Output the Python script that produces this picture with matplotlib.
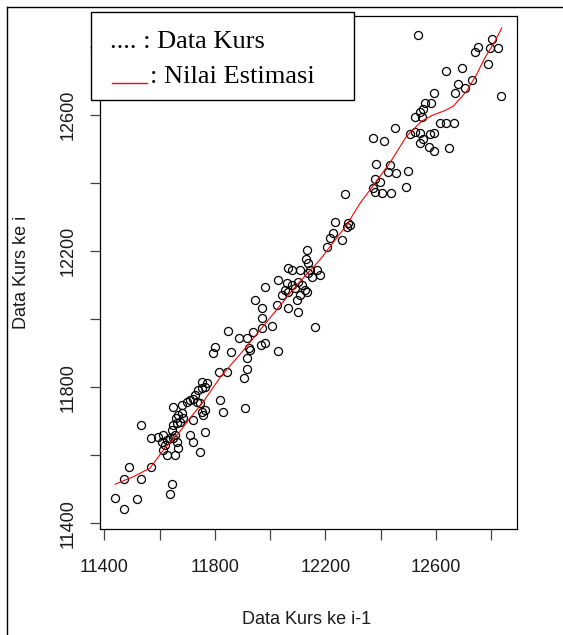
import matplotlib
matplotlib.use("Agg")
import matplotlib.pyplot as plt
from matplotlib.lines import Line2D
from matplotlib.patches import Rectangle

# Scatter data: (Data Kurs ke i-1, Data Kurs ke i)
kurs_prev = [
    11439, 11471, 11519, 11638, 11645, 11471, 11490, 11532, 11569, 11532, 11569,
    11595, 11613, 11608, 11620, 11626, 11638, 11650, 11656, 11644, 11650, 11662,
    11674, 11659, 11668, 11680, 11686, 11680, 11650, 11698, 11710, 11722, 11728,
    11740, 11752, 11764, 11734, 11746, 11752, 11764, 11758, 11722, 11710, 11722,
    11764, 11746, 11819, 11828, 11668, 11656, 11626, 11613, 11662,
    11849, 11888, 11915, 11937, 11969, 12006, 11967, 11981, 11927, 11915, 11917,
    11905, 11857, 11800, 11792, 11815, 11843, 11770, 11752, 12030, 11909, 11922,
    12235, 12259, 12217, 12229, 12205, 12282, 12277, 12289,
    12132, 12130, 12138, 12108, 12144, 12168, 12180, 12150, 12138, 12066, 12078,
    12030, 12060, 12078, 12102, 12114, 12090, 12126, 12134, 12108, 12096, 12066,
    12054, 11981, 11945, 12042, 12024, 12066, 12102, 11969, 11969, 12162,
    12542, 12524, 12548, 12615, 12636, 12452, 12371, 12412, 12506, 12524, 12542,
    12578, 12593, 12542, 12554, 12576, 12593, 12648, 12383, 12434, 12428, 12455,
    12500, 12379, 12397, 12373, 12379, 12404, 12436, 12492, 12271,
    12534, 12802, 12751, 12741, 12796, 12823, 12787, 12635, 12693, 12729, 12679,
    12669, 12705, 12594, 12560, 12582, 12554, 12835, 12666,
]
kurs_now = [
    11473, 11442, 11472, 11487, 11516, 11530, 11566, 11530, 11566, 11689, 11650,
    11654, 11659, 11640, 11630, 11645, 11650, 11650, 11659, 11674, 11689, 11694,
    11699, 11709, 11718, 11723, 11709, 11748, 11743, 11757, 11762, 11765, 11777,
    11792, 11797, 11801, 11757, 11753, 11728, 11733, 11718, 11704, 11659, 11640,
    11669, 11610, 11762, 11728, 11620, 11601, 11601, 11615, 11640,
    11966, 11944, 11944, 11963, 11973, 11980, 11924, 11931, 11909, 11885, 11853,
    11826, 11904, 11919, 11900, 11844, 11846, 11811, 11816, 11907, 11738, 11915,
    12286, 12232, 12237, 12252, 12213, 12282, 12272, 12277,
    12203, 12176, 12164, 12144, 12144, 12144, 12130, 12125, 12135, 12149, 12144,
    12115, 12105, 12100, 12110, 12100, 12091, 12086, 12081, 12071, 12056, 12081,
    12086, 12095, 12056, 12071, 12041, 12032, 12022, 12032, 12002, 11978,
    12610, 12593, 12593, 12577, 12577, 12561, 12531, 12523, 12544, 12551, 12546,
    12544, 12548, 12517, 12528, 12505, 12493, 12502, 12455, 12453, 12433, 12430,
    12435, 12411, 12404, 12384, 12374, 12371, 12371, 12387, 12367,
    12835, 12824, 12801, 12785, 12798, 12796, 12749, 12729, 12737, 12702, 12690,
    12665, 12678, 12665, 12634, 12634, 12617, 12656, 12575,
]

# Estimated (fitted) curve
est_x = [11439, 11505, 11565, 11618, 11668, 11710, 11758, 11820, 11900, 11993,
         12096, 12180, 12277, 12325, 12434, 12494, 12548, 12590, 12630, 12663,
         12711, 12747, 12777, 12814, 12838]
est_y = [11515, 11537, 11562, 11620, 11664, 11709, 11757, 11830, 11905, 11997,
         12100, 12174, 12277, 12340, 12460, 12538, 12582, 12600, 12612, 12626,
         12670, 12719, 12768, 12817, 12856]

tick_vals = [11400, 11600, 11800, 12000, 12200, 12400, 12600, 12800]
tick_labels = ["11400", "", "11800", "", "12200", "", "12600", ""]
y_tick_vals = [11400, 11600, 11800, 12000, 12200, 12400, 12600, 12800]
y_tick_labels = ["11400", "", "11800", "", "12200", "", "12600", ""]

W, H = 563, 635
fig = plt.figure(figsize=(W / 100, H / 100), dpi=100)
fig.patch.set_facecolor("white")

def fx(px):
    return px / W

def fy(py):
    return 1 - py / H

ax = fig.add_axes([fx(100), fy(529.3), fx(517) - fx(100), fy(15.7) - fy(529.3)])
ax.set_xlim(11384.4, 12893.2)
ax.set_ylim(11382.4, 12891.6)

ax.plot(kurs_prev, kurs_now, linestyle="none", marker="o", markersize=5.8,
        markerfacecolor="none", markeredgecolor="black", markeredgewidth=0.9)
ax.plot(est_x, est_y, color="#ff0000", linewidth=0.8)

sans = ["Liberation Sans", "DejaVu Sans"]
ax.set_xticks(tick_vals)
ax.set_xticklabels(tick_labels, fontsize=13, family=sans, color="#1a1a1a")
ax.set_yticks(y_tick_vals)
ax.set_yticklabels(y_tick_labels, fontsize=13, family=sans, color="#1a1a1a")
for lab in ax.get_yticklabels():
    lab.set_rotation(90)
    lab.set_va("center")
ax.tick_params(axis="x", direction="out", length=8.2, width=0.9, color="#444444", pad=13)
ax.tick_params(axis="y", direction="out", length=7.2, width=0.9, color="#444444", pad=9.5)
for sp in ax.spines.values():
    sp.set_color("black")
    sp.set_linewidth(0.9)

fig.text(fx(306.7), fy(620), "Data Kurs ke i-1", fontsize=13, family=sans,
         color="#1a1a1a", ha="center", va="center")
fig.text(fx(22), fy(272), "Data Kurs ke i", fontsize=13, family=sans,
         color="#1a1a1a", ha="center", va="center", rotation=90)

# Outer frame (left and top)
fig.add_artist(Line2D([fx(7), fx(7)], [0, fy(7)], color="black", linewidth=1.0,
                      transform=fig.transFigure))
fig.add_artist(Line2D([fx(7), 1], [fy(7), fy(7)], color="black", linewidth=1.0,
                      transform=fig.transFigure))

# Legend box
leg = Rectangle((fx(91), fy(100)), fx(354) - fx(91), fy(12.3) - fy(100),
                transform=fig.transFigure, facecolor="white", edgecolor="black",
                linewidth=1.0, zorder=10)
fig.add_artist(leg)
serif = ["Liberation Serif", "DejaVu Serif"]
fig.text(fx(110), fy(48.5), ".... : Data Kurs", fontsize=19, family=serif,
         color="black", ha="left", va="baseline", zorder=11)
fig.add_artist(Line2D([fx(112), fx(147)], [fy(83.3), fy(83.3)], color="#ff0000",
                      linewidth=1.0, transform=fig.transFigure, zorder=11))
fig.text(fx(150), fy(83), ": Nilai Estimasi", fontsize=19, family=serif,
         color="black", ha="left", va="baseline", zorder=11)

fig.savefig("out.png", dpi=100)
